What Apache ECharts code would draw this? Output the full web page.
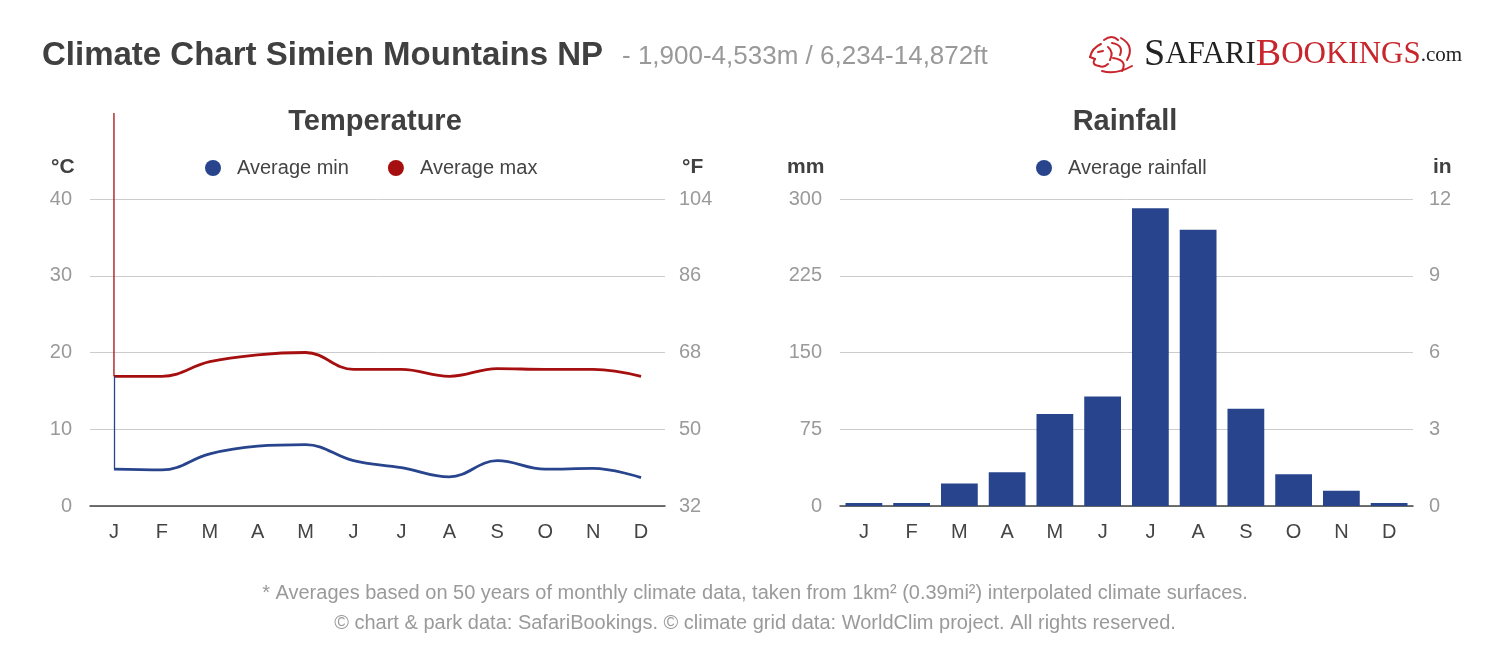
<!DOCTYPE html>
<html><head><meta charset="utf-8">
<script src="https://cdn.jsdelivr.net/npm/echarts@6/dist/echarts.min.js"></script>
<style>html,body{margin:0;padding:0;background:#fff}#c{width:1500px;height:652px}</style>
</head><body><div id="c"></div>
<script>
const months = ['J','F','M','A','M','J','J','A','S','O','N','D'];
const tempMin = [4.8, 4.7, 6.8, 7.8, 8.0, 5.9, 5.0, 3.8, 5.9, 4.8, 4.9, 3.7];
const tempMax = [16.9, 16.9, 18.8, 19.7, 20.0, 17.8, 17.8, 16.9, 17.9, 17.8, 17.8, 16.9];
const rainfall = [3, 3, 22, 33, 90, 107, 291, 270, 95, 31, 15, 3];
const celsiusTicks = [0, 10, 20, 30, 40];
const mmTicks = [0, 75, 150, 225, 300];
const inchTicks = [0, 3, 6, 9, 12];

const BLUE = '#27448c', RED = '#a50f0f', LOGO_RED = '#c8262c';
const F = 'Liberation Sans, Arial, sans-serif';
const SERIF = 'Liberation Serif, serif';
const chart = echarts.init(document.getElementById('c'));
const axisLbl = {color:'#9a9a9a', fontSize:20, fontFamily:F};
const lionStroke = {stroke:LOGO_RED, lineWidth:2, fill:null, lineCap:'round'};
// decorative logo strokes [x1,y1,cpx,cpy,x2,y2]
const lionCurves = [
  [1101,44,1092,48,1090,57],
  [1095,59,1091,65,1099,66],
  [1099,66,1104,68,1108,64],
  [1104,40,1112,34,1118,40],
  [1112,43,1124,45,1120,55],
  [1121,38,1135,46,1127,60],
  [1113,58,1128,60,1122,71],
  [1102,71,1116,75,1132,66],
  [1108,47,1114,52,1110,60]
];
const logoGraphics = lionCurves.map(c => ({type:'bezierCurve', silent:true,
  shape:{x1:c[0], y1:c[1], cpx1:c[2], cpy1:c[3], x2:c[4], y2:c[5]}, style:lionStroke}));
logoGraphics.push({type:'line', silent:true, shape:{x1:1090, y1:57, x2:1095, y2:59}, style:lionStroke});
logoGraphics.push({type:'line', silent:true, shape:{x1:1098, y1:52, x2:1103, y2:51}, style:lionStroke});

chart.setOption({
  animation:false,
  textStyle:{fontFamily:F},
  graphic: logoGraphics,
  title:[
    {text:'Climate Chart Simien Mountains NP', left:37, top:34, textStyle:{fontSize:33, fontWeight:'bold', color:'#404040', fontFamily:F}},
    {text:'- 1,900-4,533m / 6,234-14,872ft', left:617, top:39, textStyle:{fontSize:26, fontWeight:'normal', color:'#999', fontFamily:F}},
    {text:'Temperature', left:370, top:102, textAlign:'center', textStyle:{fontSize:29, fontWeight:'bold', color:'#404040', fontFamily:F}},
    {text:'Rainfall', left:1120, top:102, textAlign:'center', textStyle:{fontSize:29, fontWeight:'bold', color:'#404040', fontFamily:F}},
    {text:'°C', left:46, top:152, textStyle:{fontSize:21, fontWeight:'bold', color:'#404040', fontFamily:F}},
    {text:'°F', left:677, top:152, textStyle:{fontSize:21, fontWeight:'bold', color:'#404040', fontFamily:F}},
    {text:'mm', left:782, top:152, textStyle:{fontSize:21, fontWeight:'bold', color:'#404040', fontFamily:F}},
    {text:'in', left:1428, top:152, textStyle:{fontSize:21, fontWeight:'bold', color:'#404040', fontFamily:F}},
    {text:'* Averages based on 50 years of monthly climate data, taken from 1km² (0.39mi²) interpolated climate surfaces.', left:750, top:578, textAlign:'center', textStyle:{fontSize:20, fontWeight:'normal', color:'#9a9a9a', fontFamily:F}},
    {text:'© chart & park data: SafariBookings. © climate grid data: WorldClim project. All rights reserved.', left:750, top:608, textAlign:'center', textStyle:{fontSize:20, fontWeight:'normal', color:'#9a9a9a', fontFamily:F}},
    {text:'{a|S}{b|AFARI}{c|B}{d|OOKINGS}{e|.com}', left:1139, top:31, textStyle:{rich:{
      a:{fontSize:38, color:'#222', fontFamily:SERIF, fontWeight:'normal'},
      b:{fontSize:31, color:'#222', fontFamily:SERIF, fontWeight:'normal'},
      c:{fontSize:38, color:LOGO_RED, fontFamily:SERIF, fontWeight:'normal'},
      d:{fontSize:31, color:LOGO_RED, fontFamily:SERIF, fontWeight:'normal'},
      e:{fontSize:21, color:'#222', fontFamily:SERIF, fontWeight:'normal'}}}}
  ],
  legend:[
    {data:['Average min','Average max'], left:200, top:153, icon:'circle', itemWidth:16, itemHeight:16, itemGap:39,
     textStyle:{fontSize:20, color:'#444', fontFamily:F, padding:[0,0,0,11]}},
    {data:['Average rainfall'], left:1031, top:153, icon:'circle', itemWidth:16, itemHeight:16,
     textStyle:{fontSize:20, color:'#444', fontFamily:F, padding:[0,0,0,11]}}
  ],
  grid:[
    {left:90, width:575, top:199, height:307},
    {left:840, width:573, top:199, height:307}
  ],
  xAxis:[
    {type:'category', gridIndex:0, data:months, boundaryGap:true, axisTick:{show:false},
     axisLine:{lineStyle:{color:'#444', width:1.5}}, axisLabel:{color:'#444', fontSize:20, margin:16, fontFamily:F}},
    {type:'category', gridIndex:1, data:months, boundaryGap:true, axisTick:{show:false},
     axisLine:{lineStyle:{color:'#444', width:1.5}}, axisLabel:{color:'#444', fontSize:20, margin:16, fontFamily:F}}
  ],
  yAxis:[
    {type:'value', gridIndex:0, min:celsiusTicks[0], max:celsiusTicks[4], interval:10,
     axisLabel:Object.assign({margin:18}, axisLbl), splitLine:{lineStyle:{color:'#ccc', width:1}}, axisLine:{show:false}, axisTick:{show:false}},
    {type:'value', gridIndex:0, position:'right', min:celsiusTicks[0], max:celsiusTicks[4], interval:10,
     axisLabel:Object.assign({margin:14, formatter:v=>String(Math.round(v*1.8+32))}, axisLbl), splitLine:{show:false}, axisLine:{show:false}, axisTick:{show:false}},
    {type:'value', gridIndex:1, min:mmTicks[0], max:mmTicks[4], interval:75,
     axisLabel:Object.assign({margin:18}, axisLbl), splitLine:{lineStyle:{color:'#ccc', width:1}}, axisLine:{show:false}, axisTick:{show:false}},
    {type:'value', gridIndex:1, position:'right', min:inchTicks[0], max:inchTicks[4], interval:3,
     axisLabel:Object.assign({margin:16}, axisLbl), splitLine:{show:false}, axisLine:{show:false}, axisTick:{show:false}}
  ],
  series:[
    {name:'Average min', type:'line', xAxisIndex:0, yAxisIndex:0, data:tempMin, smooth:0.4, symbol:'none',
     itemStyle:{color:BLUE}, lineStyle:{color:BLUE, width:2.8},
     markLine:{silent:true, symbol:'none', label:{show:false}, lineStyle:{color:BLUE, width:1.3, type:'solid'},
       data:[[{coord:[0, tempMin[0]]},{coord:[0, tempMax[0]]}]]}},
    {name:'Average max', type:'line', xAxisIndex:0, yAxisIndex:0, data:tempMax, smooth:0.4, symbol:'none',
     itemStyle:{color:RED}, lineStyle:{color:RED, width:2.8}},
    {name:'Average rainfall', type:'bar', xAxisIndex:1, yAxisIndex:2, data:rainfall, barCategoryGap:'23%',
     itemStyle:{color:BLUE}}
  ]
});
// red vertical guide at January, from the max line upward (through the library's scales)
const pStart = chart.convertToPixel({gridIndex:0}, [0, tempMax[0]]);
const pEnd = chart.convertToPixel({gridIndex:0}, [0, 51.2]);
chart.setOption({graphic: logoGraphics.concat([{type:'line', silent:true, z:5,
  shape:{x1:pStart[0], y1:pStart[1], x2:pEnd[0], y2:pEnd[1]}, style:{stroke:RED, lineWidth:1.3}}])});
</script></body></html>
